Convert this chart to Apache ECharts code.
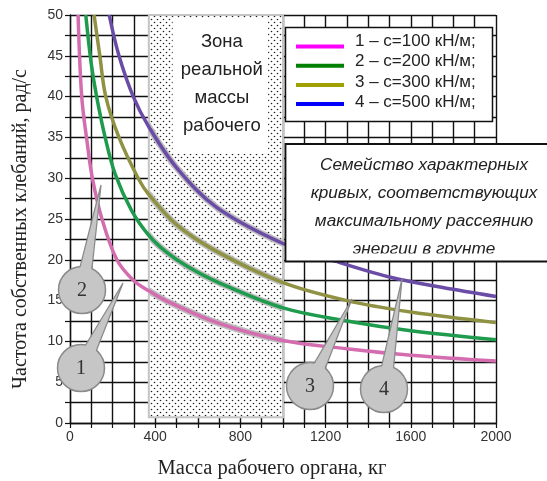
<!DOCTYPE html>
<html>
<head>
<meta charset="utf-8">
<script src="https://cdn.jsdelivr.net/npm/echarts@6/dist/echarts.min.js"></script>
<style>
  html, body { margin: 0; padding: 0; background: #fff; }
  #chart { width: 547px; height: 481px; }
</style>
</head>
<body>
<div id="chart"></div>
<script>
// Natural frequency (rad/s) against working-body mass (kg) for four soil stiffnesses
const massC100 = [38, 55, 80, 105, 150, 220, 297, 370, 450, 690, 1000, 1300, 1600, 2000];
const omegaC100 = [50, 40, 34.5, 30, 25, 20, 17.5, 16.2, 15.0, 12.3, 10.1, 9.1, 8.3, 7.6];

const massC200 = [74, 100, 125, 165, 212, 290, 370, 450, 550, 690, 1000, 1300, 1600, 2000];
const omegaC200 = [50, 44, 40, 35, 30.5, 26, 23, 21, 19.2, 17.3, 14.1, 12.5, 11.3, 10.2];

const massC300 = [113, 140, 168, 230, 320, 370, 500, 690, 1000, 1300, 1600, 2000];
const omegaC300 = [50, 45, 40, 35, 30, 28, 24.3, 21.0, 17.2, 15.0, 13.6, 12.3];

const massC500 = [184, 230, 297, 370, 500, 690, 1000, 1250, 1500, 1750, 2000];
const omegaC500 = [50, 45, 40, 36.3, 31.3, 26.4, 22.0, 19.8, 17.9, 16.6, 15.5];

const curveNames = ['1', '2', '3', '4'];
const legendLabels = ['1 – c=100 кН/м;', '2 – c=200 кН/м;', '3 – c=300 кН/м;', '4 – c=500 кН/м;'];

// Range of realistic working-body mass
const zoneMass = [370, 1000];
const zoneOmega = [0.7, 50];

const xTicks = { min: 0, max: 2000, step: 100, labelStep: 400 };
const yTicks = { min: 0, max: 50, step: 2.5, labelStep: 5 };

const curveColors = ['#d46db0', '#1f9b4e', '#8f9143', '#6a4ba5'];
const legendColors = ['#ff00ff', '#008000', '#a0a000', '#0000ff'];

function pairs(xs, ys) { return xs.map((x, i) => [x, ys[i]]); }
const curves = [
  pairs(massC100, omegaC100),
  pairs(massC200, omegaC200),
  pairs(massC300, omegaC300),
  pairs(massC500, omegaC500)
];

// Stippled fill for the mass zone
const dots = document.createElement('canvas');
dots.width = 6; dots.height = 6;
(function () {
  const c = dots.getContext('2d');
  c.fillStyle = '#fff';
  c.fillRect(0, 0, 6, 6);
  c.fillStyle = '#222';
  [[1.5, 1.5], [4.5, 4.5]].forEach(([x, y]) => {
    c.beginPath(); c.arc(x, y, 0.8, 0, Math.PI * 2); c.fill();
  });
})();

const chart = echarts.init(document.getElementById('chart'), null, { renderer: 'canvas' });

const labelFont = 'Liberation Sans, Arial, sans-serif';
const serifFont = 'Liberation Serif, Times New Roman, serif';

const series = [];
// zone background
series.push({
  type: 'line', name: 'zone', data: [], z: 1, silent: true,
  markArea: {
    silent: true,
    data: [
      [
        { xAxis: zoneMass[0], yAxis: zoneOmega[0],
          itemStyle: { color: { image: dots, repeat: 'repeat' }, borderColor: '#c4c4c4', borderWidth: 2 } },
        { xAxis: zoneMass[1], yAxis: zoneOmega[1] }
      ],
      [
        { xAxis: 482, yAxis: 33, itemStyle: { color: '#fff', borderWidth: 0 },
          label: {
            show: true, position: 'inside', formatter: 'Зона\nреальной\nмассы\nрабочего',
            fontFamily: labelFont, fontSize: 18.5, lineHeight: 28,
            color: '#222', align: 'center', verticalAlign: 'middle', offset: [1.5, -2.5]
          } },
        { xAxis: 930, yAxis: 49.6 }
      ]
    ]
  }
});
// light halo of each curve inside the zone
curves.forEach((d, i) => {
  series.push({
    type: 'line', name: 'halo' + curveNames[i], data: d, smooth: 0.35, showSymbol: false,
    z: 2, silent: true,
    lineStyle: { width: 6.5 }
  });
});
// curves
curves.forEach((d, i) => {
  series.push({
    type: 'line', name: curveNames[i], data: d, smooth: 0.35, showSymbol: false,
    z: 3, silent: true,
    lineStyle: { width: 3.5, color: curveColors[i] },
    itemStyle: { color: curveColors[i] }
  });
});

chart.setOption({
  animation: false,
  backgroundColor: '#fff',
  grid: { left: 70, right: 51, top: 15, bottom: 58, containLabel: false },
  visualMap: {
    show: false, type: 'piecewise', seriesIndex: [1, 2, 3, 4], dimension: 0,
    pieces: [{ gte: zoneMass[0], lte: zoneMass[1], color: '#bdbdbd' }],
    outOfRange: { color: 'rgba(255,255,255,0)' }
  },
  xAxis: {
    type: 'value', min: xTicks.min, max: xTicks.max, interval: xTicks.step,
    axisLine: { show: true, lineStyle: { color: '#111', width: 1.3 } },
    axisTick: { show: true, length: 5, lineStyle: { color: '#111', width: 1.2 } },
    axisLabel: {
      margin: 7, fontSize: 14, color: '#333', fontFamily: labelFont,
      formatter: v => (v % xTicks.labelStep === 0 ? String(v) : '')
    },
    splitLine: { show: true, lineStyle: { color: '#111', width: 1.4 } }
  },
  yAxis: {
    type: 'value', min: yTicks.min, max: yTicks.max, interval: yTicks.step,
    axisLine: { show: true, lineStyle: { color: '#111', width: 1.3 } },
    axisTick: { show: true, length: 5, lineStyle: { color: '#111', width: 1.2 } },
    axisLabel: {
      margin: 7, fontSize: 14, color: '#333', fontFamily: labelFont,
      formatter: v => (v % yTicks.labelStep === 0 ? String(v) : '')
    },
    splitLine: { show: true, lineStyle: { color: '#111', width: 1.4 } }
  },
  series: series
});

// Annotations: axis titles, legend, caption box and numbered callouts
function callout(num, cx, cy, tx, ty) {
  const r = 23.5, w = 6;
  const dx = tx - cx, dy = ty - cy, len = Math.hypot(dx, dy);
  const ux = dx / len, uy = dy / len, px = -uy, py = ux;
  const along = Math.sqrt(r * r - w * w);
  const b1 = [cx + ux * along + px * w, cy + uy * along + py * w];
  const b2 = [cx + ux * along - px * w, cy + uy * along - py * w];
  const i1 = [cx + ux * (along - 5) + px * w, cy + uy * (along - 5) + py * w];
  const i2 = [cx + ux * (along - 5) - px * w, cy + uy * (along - 5) - py * w];
  return [
    { type: 'circle', z: 100, shape: { cx: cx, cy: cy, r: r },
      style: { fill: '#c6c6c6', stroke: '#8a8a8a', lineWidth: 1.5 } },
    { type: 'polygon', z: 101, shape: { points: [i1, [tx, ty], i2] },
      style: { fill: '#c6c6c6', stroke: null } },
    { type: 'polyline', z: 102, shape: { points: [b1, [tx, ty], b2] },
      style: { fill: null, stroke: '#8a8a8a', lineWidth: 1.3 } },
    { type: 'text', z: 103, x: cx, y: cy + 1,
      style: { text: num, font: '20px ' + serifFont, fill: '#333', align: 'center', verticalAlign: 'middle' } }
  ];
}

const g = [];
g.push({ type: 'text', z: 100, x: 21, y: 229, rotation: Math.PI / 2,
  style: { text: 'Частота собственных клебаний, рад/с', font: '20px ' + serifFont, fill: '#222',
           align: 'center', verticalAlign: 'middle' } });
g.push({ type: 'text', z: 100, x: 272, y: 469,
  style: { text: 'Масса рабочего органа, кг', font: '20.5px ' + serifFont, fill: '#222',
           align: 'center', verticalAlign: 'middle' } });

// legend box
g.push({ type: 'rect', z: 100, shape: { x: 285.5, y: 27.5, width: 207, height: 94 },
  style: { fill: '#fff', stroke: '#111', lineWidth: 1.5 } });
legendLabels.forEach((t, i) => {
  const yText = 41 + i * 20.5;
  const ySw = 46.5 + i * 19.2;
  g.push({ type: 'line', z: 101, shape: { x1: 296, y1: ySw, x2: 344, y2: ySw },
    style: { stroke: legendColors[i], lineWidth: 4 } });
  g.push({ type: 'text', z: 101, x: 355, y: yText,
    style: { text: t, font: '17px ' + labelFont, fill: '#222', align: 'left', verticalAlign: 'middle' } });
});

// caption box (last line cut by the frame)
g.push({ type: 'rect', z: 100, shape: { x: 285.5, y: 144, width: 280, height: 117.5 },
  style: { fill: '#fff', stroke: null } });
['Семейство характерных', 'кривых, соответствующих', 'максимальному рассеянию', 'энергии в грунте'].forEach((t, i) => {
  g.push({ type: 'text', z: 101, x: 424, y: 165 + i * 28,
    style: { text: t, font: 'italic 17.2px ' + labelFont, fill: '#222', align: 'center', verticalAlign: 'middle' } });
});
g.push({ type: 'rect', z: 102, shape: { x: 287, y: 253.5, width: 270, height: 7 },
  style: { fill: '#fff', stroke: null } });
g.push({ type: 'rect', z: 103, shape: { x: 285.5, y: 144, width: 280, height: 117.5 },
  style: { fill: null, stroke: '#111', lineWidth: 1.8 } });

g.push.apply(g, callout('1', 81, 368, 123, 283));
g.push.apply(g, callout('2', 82, 290, 101, 185));
g.push.apply(g, callout('3', 310, 386, 352, 299));
g.push.apply(g, callout('4', 384, 389, 402, 279));

chart.setOption({ graphic: g });
</script>
</body>
</html>
